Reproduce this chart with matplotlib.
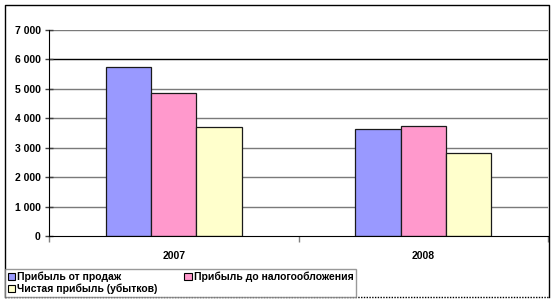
import matplotlib
matplotlib.use("Agg")
import matplotlib.pyplot as plt
import numpy as np
from matplotlib.lines import Line2D
from matplotlib.patches import Patch

# data
years = ["2007", "2008"]
series_names = ["Прибыль от продаж", "Прибыль до налогообложения", "Чистая прибыль (убытков)"]
sales_profit = [5750, 3640]
pretax_profit = [4860, 3740]
net_profit = [3710, 2820]
colors = ["#9999FF", "#FF99CC", "#FFFFCC"]
yticks = [0, 1000, 2000, 3000, 4000, 5000, 6000, 7000]

plt.rcParams["font.family"] = ["Liberation Sans", "DejaVu Sans"]
plt.rcParams["font.weight"] = "bold"

W, H = 555, 304
fig = plt.figure(figsize=(W / 100, H / 100), dpi=100)


def fx(px):
    return px / W


def fy(py):
    return 1 - py / H


ax = fig.add_axes([fx(49), fy(236), fx(548) - fx(49), fy(30) - fy(236)])

x = np.arange(len(years))
bw = 0.182
for i, (vals, col) in enumerate(zip([sales_profit, pretax_profit, net_profit], colors)):
    ax.bar(x + (i - 1) * bw, vals, width=bw, color=col, edgecolor="#1a1a1a",
           linewidth=0.9, zorder=3)

ax.set_xlim(-0.5, 1.5)
ax.set_ylim(0, 7000)
ax.set_yticks(yticks)
ax.set_yticklabels([f"{v:,}".replace(",", " ") for v in yticks], fontsize=7.5, fontweight="bold")
for v in yticks[1:]:
    ax.axhline(v, color="#000000" if v == 6000 else "#7a7a7a", linewidth=1, zorder=1)

ax.set_xticks([-0.5, 0.5, 1.5])
ax.set_xticklabels([])
ax.set_xticks(x, minor=True)
ax.set_xticklabels(years, minor=True, fontsize=7.5, fontweight="bold")
ax.tick_params(axis="x", which="minor", length=0, pad=11)
ax.tick_params(axis="x", which="major", length=4, width=1, color="#808080")
ax.tick_params(axis="y", direction="inout", length=6, width=1, color="#404040", pad=3)

for s in ["top", "right"]:
    ax.spines[s].set_visible(False)
ax.spines["left"].set_color("#000000")
ax.spines["bottom"].set_color("#000000")
ax.spines["left"].set_zorder(4)
ax.spines["bottom"].set_zorder(4)

# outer chart border
x0, x1, y0, y1 = fx(5), fx(549), fy(297), fy(5)
fig.add_artist(Line2D([x0, x0, x1, x1], [y0, y1, y1, y0], color="black", linewidth=1))
fig.add_artist(Line2D([x0, x1], [y0, y0], color="black", linewidth=1, linestyle=(0, (1, 1))))

handles = [Patch(facecolor=c, edgecolor="black", linewidth=0.8) for c in colors]
order = [0, 2, 1]
leg = fig.legend([handles[i] for i in order], [series_names[i] for i in order],
                 ncol=2, loc="lower left", bbox_to_anchor=(fx(5), fy(297)),
                 prop={"size": 7.5, "weight": "bold"}, frameon=True, fancybox=False,
                 edgecolor="#808080", borderpad=0.25, handlelength=0.7, handleheight=0.7,
                 handletextpad=0.2, columnspacing=2.6, labelspacing=0.2,
                 borderaxespad=0)
leg.get_frame().set_linewidth(1)

fig.savefig("out.png", dpi=100)
